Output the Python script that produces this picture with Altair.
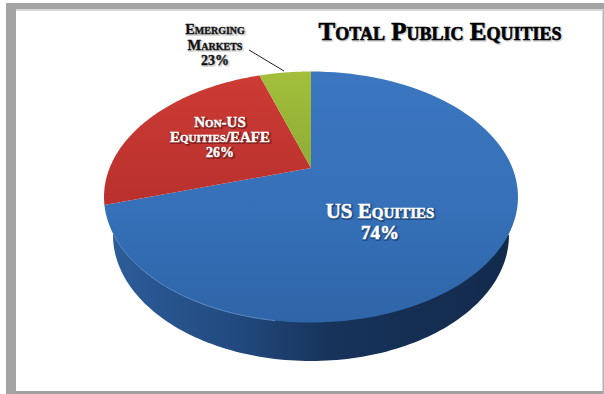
import math
import altair as alt

# Slice shares, clockwise from twelve o'clock
slice_names = ["US Equities", "Non-US Equities/EAFE", "Emerging Markets"]
slice_shares = [74, 22, 4]

# Disc geometry: the rim is an ellipse and the slices meet at an off-centre apex
CX, TOP_CY, RX, RY = 311, 197, 207, 125.5
APEX = (311, 168)
BASE_CY, BASE_RX, BASE_RY = 235, 198, 126


def rim(start, end, cx=CX, cy=TOP_CY, rx=RX, ry=RY, steps=120):
    pts = []
    for i in range(steps + 1):
        t = math.radians(start + (end - start) * i / steps)
        pts.append([cx + rx * math.sin(t), cy - ry * math.cos(t)])
    return pts


def polygon(points):
    return {"type": "Feature", "properties": {},
            "geometry": {"type": "Polygon", "coordinates": [points + [points[0]]]}}


def line(points):
    return {"type": "Feature", "properties": {},
            "geometry": {"type": "LineString", "coordinates": points}}


def shape_data(feature):
    return alt.InlineData(values={"type": "FeatureCollection", "features": [feature]},
                          format=alt.DataFormat(property="features", type="json"))


def gradient(stops, x2=0, y2=1):
    return alt.LinearGradient(
        gradient="linear", x1=0, y1=0, x2=x2, y2=y2,
        stops=[alt.GradientStop(color=c, offset=o) for o, c in stops])


# Wedges, walking the rim clockwise from the top
wedges = {}
angle = 0.0
for name, share in zip(slice_names, slice_shares):
    end = angle + share * 3.6
    wedges[name] = polygon([list(APEX)] + rim(angle, end))
    angle = end

fills = {
    "US Equities": gradient([(0, "#3b76c0"), (0.55, "#3570b8"), (1, "#2f65a8")]),
    "Non-US Equities/EAFE": gradient([(0, "#cc3b34"), (1, "#b9302e")]),
    "Emerging Markets": gradient([(0, "#a3bf3c"), (1, "#8fac35")]),
}


def shape(feature, **style):
    return alt.Chart(shape_data(feature)).mark_geoshape(**style).project(
        type="identity", scale=1, translate=[0, 0])


# The side wall sits under the top surface
side = shape(polygon(rim(90, 270, cy=BASE_CY, rx=BASE_RX, ry=BASE_RY)),
             fill=gradient([(0, "#2c5c98"), (0.3, "#224a80"), (0.55, "#17335a"),
                            (1, "#122a4c")], x2=1, y2=0))
tops = [shape(wedges[n], fill=fills[n]) for n in slice_names]
highlight = shape(line(rim(190, 252)), filled=False, stroke="#6f9ad2", strokeWidth=1, opacity=0.8)

# Picture frame: heavy grey band on the top and left, hairline on the right
frame_spec = [
    (6, 604, 3, 9, "#a4a4a4"),
    (6, 16, 3, 394, "#a4a4a4"),
    (16, 604, 9, 11, "#d8d8d8"),
    (16, 603, 391, 394, "#a0a0a0"),
    (602.5, 604, 10, 394, "#b4b4b4"),
]
frame = [
    alt.Chart(alt.Data(values=[{}])).mark_rect(color=c).encode(
        x=alt.value(x0), x2=alt.value(x1), y=alt.value(y0), y2=alt.value(y1))
    for x0, x1, y0, y1, c in frame_spec
]

leader = alt.Chart(alt.Data(values=[{}])).mark_rule(color="#222222", strokeWidth=1).encode(
    x=alt.value(249), x2=alt.value(284), y=alt.value(50), y2=alt.value(71))

# Caption lines, with a soft halo drawn underneath each one
TITLE_FONT = "Liberation Serif"


def caption(lines, x, y, size, color, halo, line_height, weight=0.4, glow=2.2):
    base = dict(text=lines, font=TITLE_FONT, fontWeight="bold", fontSize=size,
                align="center", baseline="alphabetic", lineHeight=line_height)
    enc = dict(x=alt.value(x), y=alt.value(y))
    one = alt.Data(values=[{}])
    return [
        alt.Chart(one).mark_text(color=halo, stroke=halo, strokeWidth=glow, opacity=0.4,
                                 dx=1, dy=1, **base).encode(**enc),
        alt.Chart(one).mark_text(color=color, stroke=color, strokeWidth=weight,
                                 **base).encode(**enc),
    ]


captions = (
    caption(["Total Public Equities"], 440, 40, 25, "#000000", "#999999", 24, 0.6, 1.5)
    + caption(["Emerging", "Markets"], 215, 34, 14.5, "#111111", "#999999", 16, 0.3, 1.6)
    + caption(["23%"], 215, 65, 14, "#111111", "#999999", 14, 0.3, 1.6)
    + caption(["Non-US", "Equities/EAFE"], 220, 127, 15, "#ffffff", "#3a0a0a", 15)
    + caption(["26%"], 220, 157, 14, "#ffffff", "#3a0a0a", 14)
    + caption(["US Equities"], 380, 218, 21, "#ffffff", "#0c2038", 21, 0.5)
    + caption(["74%"], 380, 239, 19, "#ffffff", "#0c2038", 19, 0.5)
)

# Small capitals are a text-mark property that the compiled scene accepts directly
n_before_text = 1 + len(tops) + 1 + len(frame) + 1
patch = [
    {"op": "add", "path": f"/marks/{n_before_text + i}/encode/update/fontVariant",
     "value": {"value": "small-caps"}}
    for i in range(len(captions))
]

chart = alt.layer(side, *tops, highlight, *frame, leader, *captions).properties(
    width=604, height=394, padding=0,
    autosize=alt.AutoSizeParams(type="none"),
    background="#ffffff",
    usermeta={"embedOptions": {"patch": patch}},
).configure_view(stroke=None)

chart.save("out.html", embed_options={"renderer": "svg", "actions": False})
